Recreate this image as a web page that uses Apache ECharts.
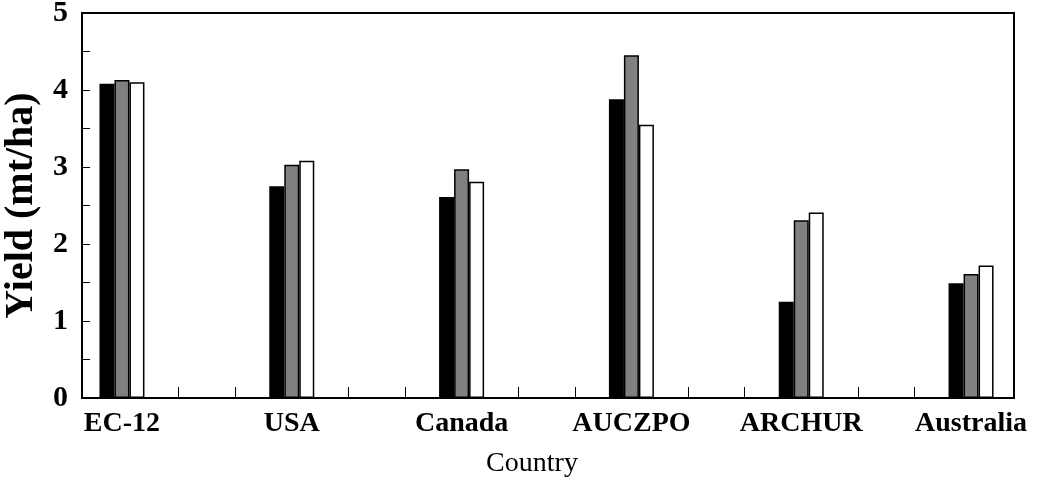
<!DOCTYPE html>
<html>
<head>
<meta charset="utf-8">
<script src="https://cdn.jsdelivr.net/npm/echarts@6/dist/echarts.min.js"></script>
<style>
  html, body { margin: 0; padding: 0; background: #fff; }
  #chart { width: 1037px; height: 480px; }
</style>
</head>
<body>
<div id="chart"></div>
<script>
const countries = ["EC-12", "USA", "Canada", "AUCZPO", "ARCHUR", "Australia"];
const blackSeries = [4.08, 2.75, 2.61, 3.88, 1.25, 1.49];
const graySeries = [4.13, 3.03, 2.97, 4.45, 2.31, 1.61];
const whiteSeries = [4.10, 3.08, 2.81, 3.55, 2.41, 1.72];
const yTicks = [0, 1, 2, 3, 4, 5];

const font = "Liberation Serif";
const toPairs = (arr) => arr.map((v, i) => [i, v]);
const xTickValues = [];
for (let k = 0; k <= (countries.length - 1) * 3; k++) xTickValues.push(k / 3);

const chart = echarts.init(document.getElementById("chart"));

const barStyle = (color) => ({
  type: "bar",
  barWidth: 15,
  barGap: "0%",
  itemStyle: { color: color, borderColor: "#000", borderWidth: 1.5 },
});

chart.setOption({
  animation: false,
  grid: {
    left: 82,
    right: 23,
    top: 13,
    bottom: 82,
    outerBoundsMode: "none",
    show: true,
    borderColor: "#000",
    borderWidth: 2,
  },
  xAxis: {
    type: "value",
    min: -0.2353,
    max: 5.2529,
    name: "Country",
    nameLocation: "middle",
    nameGap: 52,
    nameTextStyle: {
      fontFamily: font,
      fontSize: 28,
      color: "#000",
      padding: [0, 32, 0, 0],
    },
    axisLine: { onZero: false, lineStyle: { color: "#000", width: 2 } },
    axisTick: {
      inside: true,
      length: 11,
      customValues: xTickValues,
      lineStyle: { color: "#000", width: 1 },
    },
    axisLabel: {
      customValues: countries.map((c, i) => i),
      formatter: (v) => countries[Math.round(v)],
      fontFamily: font,
      fontWeight: "bold",
      fontSize: 28,
      color: "#000",
      margin: 12,
    },
    splitLine: { show: false },
  },
  yAxis: {
    type: "value",
    min: 0,
    max: 5,
    interval: 1,
    name: "Yield (mt/ha)",
    nameLocation: "middle",
    nameRotate: 90,
    nameGap: 35,
    nameTextStyle: {
      fontFamily: font,
      fontWeight: "bold",
      fontSize: 40,
      color: "#000",
    },
    axisLine: { show: true, onZero: false, lineStyle: { color: "#000", width: 2 } },
    axisTick: { inside: true, length: 8, lineStyle: { color: "#000" } },
    minorTick: { show: true, splitNumber: 2, length: 8, lineStyle: { color: "#000" } },
    axisLabel: {
      formatter: (v) => (yTicks.includes(v) ? String(v) : ""),
      fontFamily: font,
      fontWeight: "bold",
      fontSize: 30,
      color: "#000",
      margin: 14,
      padding: [8, 0, 0, 0],
    },
    splitLine: { show: false },
  },
  series: [
    Object.assign(barStyle("#000"), { name: "black", data: toPairs(blackSeries) }),
    Object.assign(barStyle("#808080"), { name: "gray", data: toPairs(graySeries) }),
    Object.assign(barStyle("#fff"), { name: "white", data: toPairs(whiteSeries) }),
  ],
});
</script>
</body>
</html>
